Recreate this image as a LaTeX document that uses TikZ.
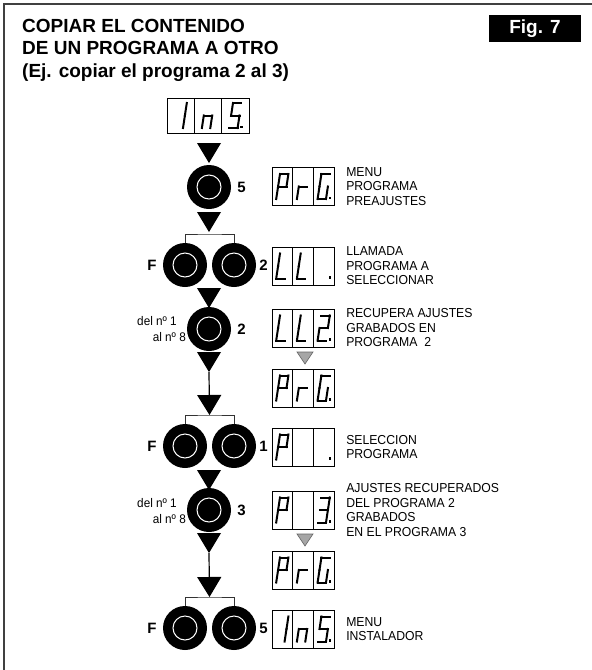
\documentclass[tikz,border=0pt]{standalone}
\usepackage{fontspec}
\setmainfont{Liberation Sans}
\newfontfamily\condfont[FakeStretch=0.94]{Liberation Sans}
\usetikzlibrary{arrows.meta,positioning}

% segments of one slanted seven segment cell
\newcommand{\sega}{\draw[digit] (-2.3,-12.5) -- (6.1,-12.5);}
\newcommand{\segb}{\draw[digit] (6.1,-12.5) -- (4.2,0);}
\newcommand{\segc}{\draw[digit] (4.2,0) -- (2.3,12.5);}
\newcommand{\segd}{\draw[digit] (-6.1,12.5) -- (2.3,12.5);}
\newcommand{\sege}{\draw[digit] (-4.2,0) -- (-6.1,12.5);}
\newcommand{\segf}{\draw[digit] (-2.3,-12.5) -- (-4.2,0);}
\newcommand{\segg}{\draw[digit] (-4.2,0) -- (4.2,0);}
\newcommand{\segp}{\fill (4.9,10.1) rectangle (7.3,12.6);}
\newcommand{\glyph}[2]{\begin{scope}[shift={(#1.center)}]
  \foreach \s in {#2} {\csname seg\s\endcsname}
\end{scope}}
% a display of three cells
\newcommand{\display}[3]{\node[#3] (#1-2) at (#2) {};
  \node[#3, left=0pt of #1-2] (#1-1) {};
  \node[#3, right=0pt of #1-2] (#1-3) {};}
% arrow marks
\newcommand{\downtip}[1]{\fill (#1) ++(-12,0) -- ++(24,0) -- ++(-12,20) -- cycle;}
\newcommand{\graytip}[1]{\filldraw[fill=black!35, draw=black!60, line width=0.6pt]
  (#1) ++(-8,0) -- ++(16,0) -- ++(-8,12) -- cycle;}

\begin{document}
\begin{tikzpicture}[x=1pt,y=-1pt]
\tikzstyle{framebar} = [draw=black!75, line width=1.6pt]
\tikzstyle{title} = [anchor=north west, align=left, inner sep=0pt,
font=\fontsize{19}{22.5}\selectfont\bfseries]
\tikzstyle{figbox} = [fill=black, text=white, minimum width=92pt, minimum height=27pt,
inner sep=0pt, font=\fontsize{19}{19}\selectfont\bfseries]
\tikzstyle{cell} = [rectangle, draw=black, line width=0.8pt, minimum width=20.7pt,
minimum height=38pt, inner sep=0pt, outer sep=0pt]
\tikzstyle{widecell} = [cell, minimum width=27.3pt, minimum height=35pt]
\tikzstyle{digit} = [line width=2pt, line cap=rect]
\tikzstyle{button} = [circle, fill=black, minimum size=44pt, inner sep=0pt,
path picture={\draw[white, line width=1pt] (path picture bounding box.center) circle (12pt);}]
\tikzstyle{key} = [inner sep=0pt, font=\fontsize{15}{15}\selectfont\bfseries]
\tikzstyle{small} = [inner sep=0pt, anchor=east, font=\condfont\fontsize{12.5}{13}\selectfont]
\tikzstyle{note} = [inner sep=0pt, align=left, font=\condfont\fontsize{13}{14.5}\selectfont]
\tikzstyle{bracket} = [draw=black!80, line width=0.8pt]
\tikzstyle{link} = [draw, line width=1.2pt, -{Triangle[width=24pt,length=20pt]}]
\useasboundingbox (0,0) rectangle (592,670);
\draw[framebar] (4,670) -- (4,4) -- (592,4);
\node[title] (head) at (22,19) {COPIAR EL CONTENIDO\\DE UN PROGRAMA A OTRO\\(Ej. copiar el programa 2 al 3)};
\node[figbox] (fig) at (535,28.5) {Fig. 7};

% row 1
\display{d1}{208,115.5}{widecell}
\glyph{d1-1}{b,c} \glyph{d1-2}{e,g,c} \glyph{d1-3}{a,f,g,c,d,p}
\coordinate (p1) at (209,143); \downtip{p1}
% row 2
\node[button] (b5) at (209,187) {};
\node[key, right=6pt of b5] (lb5) {5};
\display{d2}{303,186.5}{cell}
\glyph{d2-1}{a,b,f,e,g} \glyph{d2-2}{e,g} \glyph{d2-3}{a,f,e,d,c,p}
\node[note, right=12pt of d2-3] (n2) {MENU\\PROGRAMA\\PREAJUSTES};
\coordinate (p2) at (209,212); \downtip{p2}
% row 3
\coordinate (br1) at (209.5,234);
\node[button] (f2l) at (185,265) {};
\node[button] (f2r) at (234,265) {};
\node[key, left=6pt of f2l] (lf2) {F};
\node[key, right=3pt of f2r] (lr2) {2};
\path[bracket] (f2l.north) |- (br1) -| (f2r.north);
\display{d3}{303,266}{cell}
\glyph{d3-1}{f,e,d} \glyph{d3-2}{f,e,d} \glyph{d3-3}{p}
\node[note, right=12pt of d3-3] (n3) {LLAMADA\\PROGRAMA A\\SELECCIONAR};
\coordinate (p3) at (209,288); \downtip{p3}
% row 4
\node[button] (b2) at (209,329) {};
\node[key, right=6pt of b2] (lb2) {2};
\node[small] (del2) at (177,321) {del nº 1};
\node[small] (al2) at (186,337) {al nº 8};
\display{d4}{303,328}{cell}
\glyph{d4-1}{f,e,d} \glyph{d4-2}{f,e,d} \glyph{d4-3}{a,b,g,e,d,p}
\node[note, right=12pt of d4-3] (n4) {RECUPERA AJUSTES\\GRABADOS EN\\PROGRAMA~~2};
\coordinate (g1) at (305,352); \graytip{g1}
\display{d5}{303,388}{cell}
\glyph{d5-1}{a,b,f,e,g} \glyph{d5-2}{e,g} \glyph{d5-3}{a,f,e,d,c,p}
\coordinate (l1) at (209,352); \downtip{l1}
\coordinate (l1tip) at (209,372);
% row 5
\coordinate (br2) at (209.5,415);
\node[button] (f1l) at (185,446) {};
\node[button] (f1r) at (234,446) {};
\node[key, left=6pt of f1l] (lf1) {F};
\node[key, right=3pt of f1r] (lr1) {1};
\path[bracket] (f1l.north) |- (br2) -| (f1r.north);
\display{d6}{303,447}{cell}
\glyph{d6-1}{a,b,f,e,g} \glyph{d6-3}{p}
\node[note, right=12pt of d6-3] (n6) {SELECCION\\PROGRAMA};
\coordinate (p4) at (209,470); \downtip{p4}
% row 6
\node[button] (b3) at (209,510) {};
\node[key, right=6pt of b3] (lb3) {3};
\node[small] (del3) at (177,503) {del nº 1};
\node[small] (al3) at (186,519) {al nº 8};
\display{d7}{303,510}{cell}
\glyph{d7-1}{a,b,f,e,g} \glyph{d7-3}{a,b,g,c,d,p}
\node[note, right=12pt of d7-3] (n7) {AJUSTES RECUPERADOS\\DEL PROGRAMA 2\\GRABADOS\\EN EL PROGRAMA 3};
\coordinate (g2) at (305,534); \graytip{g2}
\display{d8}{303,570}{cell}
\glyph{d8-1}{a,b,f,e,g} \glyph{d8-2}{e,g} \glyph{d8-3}{a,f,e,d,c,p}
\coordinate (l2) at (209,533); \downtip{l2}
\coordinate (l2tip) at (209,553);
% row 7
\coordinate (br3) at (209.5,597);
\node[button] (f5l) at (185,628) {};
\node[button] (f5r) at (234,628) {};
\node[key, left=6pt of f5l] (lf5) {F};
\node[key, right=3pt of f5r] (lr5) {5};
\path[bracket] (f5l.north) |- (br3) -| (f5r.north);
\display{d9}{303,629}{cell}
\glyph{d9-1}{b,c} \glyph{d9-2}{e,g,c} \glyph{d9-3}{a,f,g,c,d,p}
\node[note, right=12pt of d9-3] (n9) {MENU\\INSTALADOR};

\path[link] (l1tip) -- (br2);
\path[link] (l2tip) -- (br3);
\end{tikzpicture}
\end{document}
